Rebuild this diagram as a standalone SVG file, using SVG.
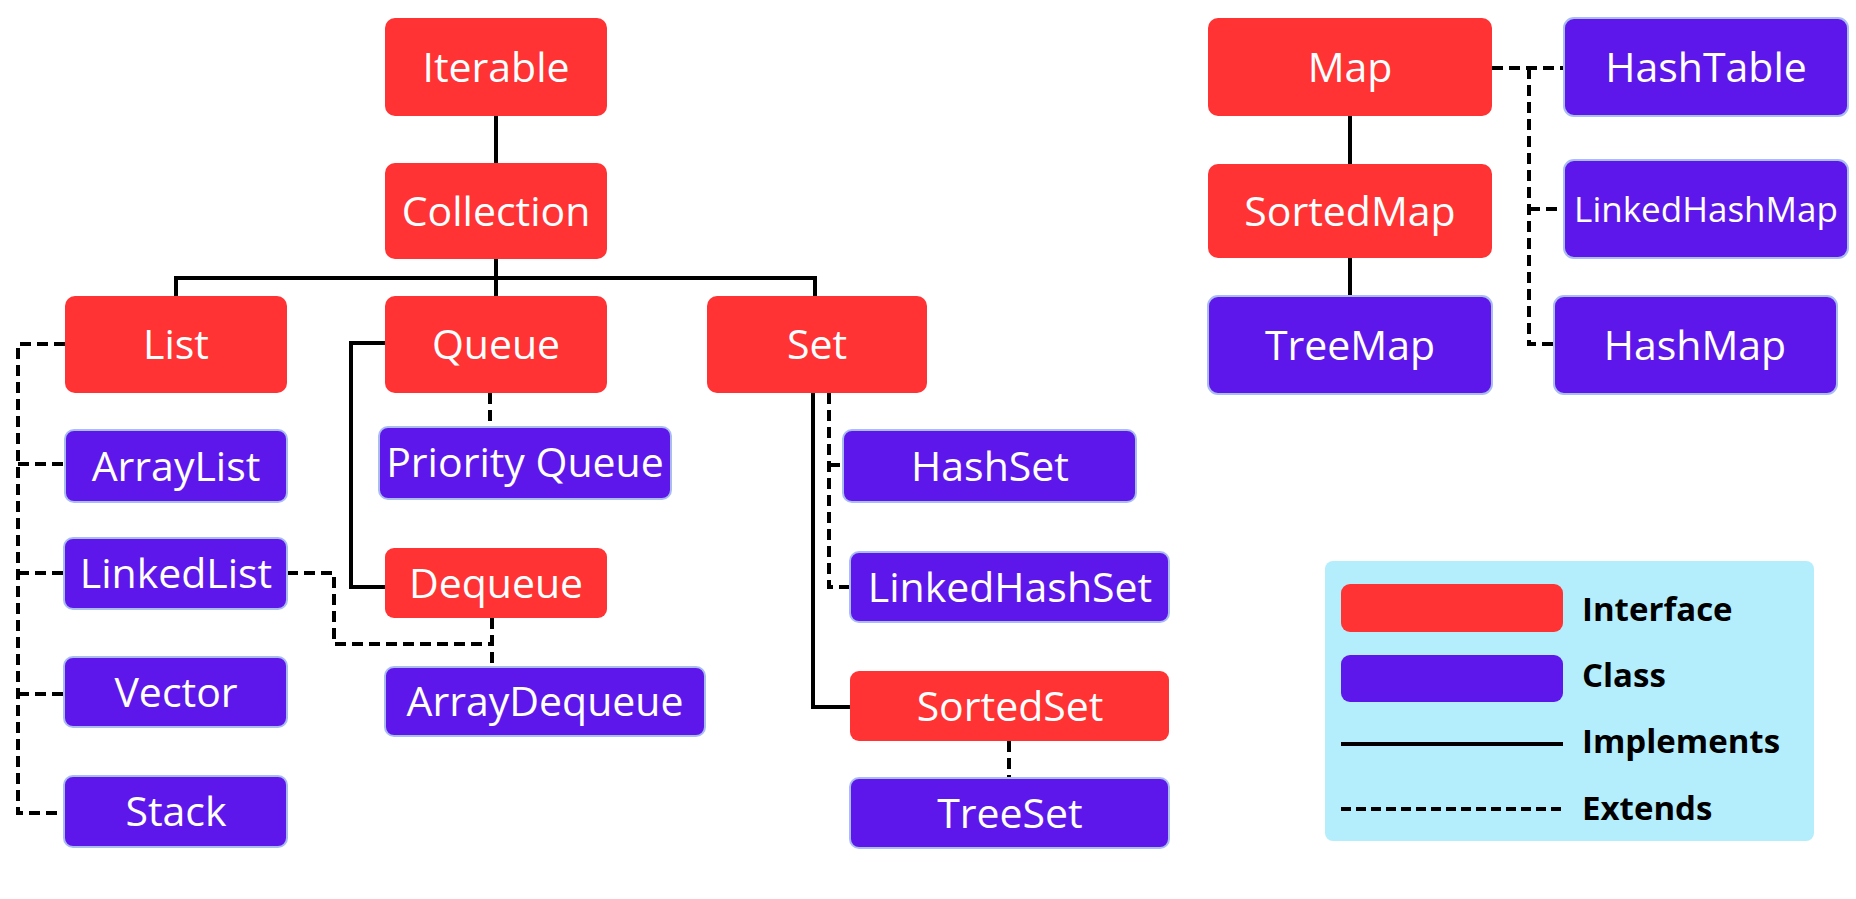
<svg xmlns="http://www.w3.org/2000/svg" width="1856" height="899" viewBox="0 0 1856 899">
<style>
.i{fill:#FF3333;}
.c{fill:#5E17EB;stroke:#A9BDF2;stroke-width:2;}
.t{font-family:"Open Sans","Noto Sans",sans-serif;font-size:41px;fill:#FFFFFF;text-anchor:middle;}
.s{stroke:#000;stroke-width:4;fill:none;}
.d{stroke:#000;stroke-width:4;fill:none;stroke-dasharray:11 6;}
.lg{font-family:"Open Sans","Noto Sans",sans-serif;font-size:33px;font-weight:bold;fill:#000;}
</style>
<rect width="1856" height="899" fill="#FFFFFF"/>
<g id="connectors">
<path class="s" d="M496 116V163"/>
<path class="s" d="M496 259V296M176 296V278H815V296"/>
<path class="d" d="M65 344H18V813H65M18 464H65M18 573H64M18 694H64"/>
<path class="s" d="M385 343H351V587H385"/>
<path class="d" d="M490 393V427"/>
<path class="d" d="M287 573H334V644H493"/>
<path class="d" d="M492 618V667"/>
<path class="s" d="M813 393V707H850"/>
<path class="d" d="M829 393V587H850M829 465H843"/>
<path class="d" d="M1009 741V778"/>
<path class="s" d="M1350 116V164M1350 258V296"/>
<path class="d" d="M1492 68H1564M1529 68V344H1554M1529 209H1564"/>
</g>
<g id="Iterable"><rect class="i" x="385" y="18" width="222" height="98" rx="10"/><text class="t" x="496" y="82">Iterable</text></g>
<g id="Collection"><rect class="i" x="385" y="163" width="222" height="96" rx="10"/><text class="t" x="496" y="226">Collection</text></g>
<g id="List"><rect class="i" x="65" y="296" width="222" height="97" rx="10"/><text class="t" x="176" y="359">List</text></g>
<g id="Queue"><rect class="i" x="385" y="296" width="222" height="97" rx="10"/><text class="t" x="496" y="359">Queue</text></g>
<g id="Set"><rect class="i" x="707" y="296" width="220" height="97" rx="10"/><text class="t" x="817" y="359">Set</text></g>
<g id="ArrayList"><rect class="c" x="65" y="430" width="222" height="72" rx="9"/><text class="t" x="176" y="481">ArrayList</text></g>
<g id="PriorityQueue"><rect class="c" x="379" y="427" width="292" height="72" rx="9"/><text class="t" x="525" y="477">Priority Queue</text></g>
<g id="LinkedList"><rect class="c" x="64" y="538" width="223" height="71" rx="9"/><text class="t" x="176" y="588">LinkedList</text></g>
<g id="Dequeue"><rect class="i" x="385" y="548" width="222" height="70" rx="9"/><text class="t" x="496" y="598">Dequeue</text></g>
<g id="Vector"><rect class="c" x="64" y="657" width="223" height="70" rx="9"/><text class="t" x="176" y="707">Vector</text></g>
<g id="ArrayDequeue"><rect class="c" x="385" y="667" width="320" height="69" rx="9"/><text class="t" x="545" y="716">ArrayDequeue</text></g>
<g id="Stack"><rect class="c" x="64" y="776" width="223" height="71" rx="9"/><text class="t" x="176" y="826">Stack</text></g>
<g id="HashSet"><rect class="c" x="843" y="430" width="293" height="72" rx="9"/><text class="t" x="990" y="481">HashSet</text></g>
<g id="LinkedHashSet"><rect class="c" x="850" y="552" width="319" height="70" rx="9"/><text class="t" x="1010" y="602">LinkedHashSet</text></g>
<g id="SortedSet"><rect class="i" x="850" y="671" width="319" height="70" rx="9"/><text class="t" x="1010" y="721">SortedSet</text></g>
<g id="TreeSet"><rect class="c" x="850" y="778" width="319" height="70" rx="9"/><text class="t" x="1010" y="828">TreeSet</text></g>
<g id="Map"><rect class="i" x="1208" y="18" width="284" height="98" rx="10"/><text class="t" x="1350" y="82">Map</text></g>
<g id="SortedMap"><rect class="i" x="1208" y="164" width="284" height="94" rx="10"/><text class="t" x="1350" y="226">SortedMap</text></g>
<g id="TreeMap"><rect class="c" x="1208" y="296" width="284" height="98" rx="10"/><text class="t" x="1350" y="360">TreeMap</text></g>
<g id="HashTable"><rect class="c" x="1564" y="18" width="284" height="98" rx="10"/><text class="t" x="1706" y="82">HashTable</text></g>
<g id="LinkedHashMap"><rect class="c" x="1564" y="160" width="284" height="98" rx="10"/><text class="t" x="1706" y="222" style="font-size:35px">LinkedHashMap</text></g>
<g id="HashMap"><rect class="c" x="1554" y="296" width="283" height="98" rx="10"/><text class="t" x="1695" y="360">HashMap</text></g>
<g id="legend">
<rect x="1325" y="561" width="489" height="280" rx="8" fill="#B4EEFC"/>
<rect x="1341" y="584" width="222" height="48" rx="9" fill="#FF3333"/>
<rect x="1341" y="655" width="222" height="47" rx="9" fill="#5E17EB"/>
<path d="M1341 744H1563" stroke="#000" stroke-width="4"/>
<path d="M1341 809H1563" stroke="#000" stroke-width="4" stroke-dasharray="10 5"/>
<text class="lg" x="1582" y="621">Interface</text>
<text class="lg" x="1582" y="687">Class</text>
<text class="lg" x="1582" y="753">Implements</text>
<text class="lg" x="1582" y="820">Extends</text>
</g>
</svg>
